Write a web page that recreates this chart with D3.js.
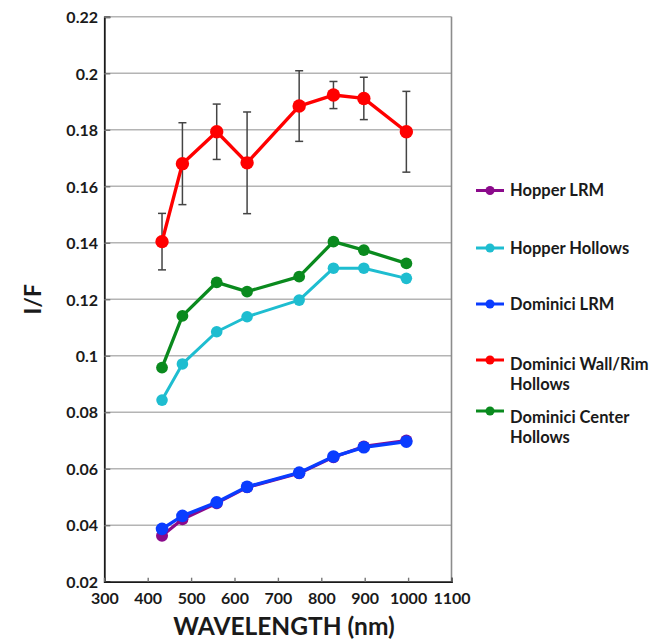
<!DOCTYPE html>
<html>
<head>
<meta charset="utf-8">
<script src="https://cdn.jsdelivr.net/npm/d3@7"></script>
<style>
  html, body { margin: 0; padding: 0; background: #fff; }
  svg { display: block; }
  text { font-family: Lato, "Open Sans", sans-serif; font-weight: bold; fill: #1a1a1a; }
</style>
</head>
<body>
<svg id="chart" width="657" height="642"></svg>
<script>
// ---- data ----
const wavelengths = [433, 480, 559, 629, 749, 828, 898, 996];
const hopperLRM      = [0.0363, 0.0421, 0.0478, 0.0534, 0.0584, 0.0641, 0.0679, 0.0700];
const hopperHollows  = [0.0843, 0.0971, 0.1085, 0.1138, 0.1197, 0.1310, 0.1310, 0.1274];
const dominiciLRM    = [0.0387, 0.0433, 0.0481, 0.0536, 0.0586, 0.0643, 0.0676, 0.0696];
const dominiciWall   = [0.1404, 0.1680, 0.1793, 0.1683, 0.1884, 0.1923, 0.1911, 0.1793];
const dominiciWallErr= [0.0100, 0.0145, 0.0098, 0.0180, 0.0125, 0.0048, 0.0075, 0.0143];
const dominiciCenter = [0.0958, 0.1141, 0.1260, 0.1227, 0.1280, 0.1404, 0.1374, 0.1327];
const xTicks = [300, 400, 500, 600, 700, 800, 900, 1000, 1100];
const yTicks = [0.02, 0.04, 0.06, 0.08, 0.1, 0.12, 0.14, 0.16, 0.18, 0.2, 0.22];
const seriesNames = ["Hopper LRM", "Hopper Hollows", "Dominici LRM", "Dominici Wall/Rim Hollows", "Dominici Center Hollows"];
const legendLines = [["Hopper LRM"], ["Hopper Hollows"], ["Dominici LRM"], ["Dominici Wall/Rim", "Hollows"], ["Dominici Center", "Hollows"]];

const series = [
  { name: seriesNames[0], values: hopperLRM,      color: "#8b0a8b", r: 6,   w: 3.2 },
  { name: seriesNames[1], values: hopperHollows,  color: "#1ebdd0", r: 5.8, w: 3.0 },
  { name: seriesNames[2], values: dominiciLRM,    color: "#0a3cff", r: 6.3, w: 3.4 },
  { name: seriesNames[3], values: dominiciWall,   color: "#ff0000", r: 6.7, w: 3.4, err: dominiciWallErr },
  { name: seriesNames[4], values: dominiciCenter, color: "#0a8a1e", r: 5.9, w: 3.3 }
];

const svg = d3.select("#chart");
const x = d3.scaleLinear().domain([300, 1100]).range([104.3, 451.5]);
const y = d3.scaleLinear().domain([0.02, 0.22]).range([581.7, 16.8]);

// gridlines
svg.append("g").selectAll("line").data(yTicks.slice(1)).join("line")
  .attr("x1", x(300)).attr("x2", x(1100))
  .attr("y1", d => y(d)).attr("y2", d => y(d))
  .attr("stroke", "#b4b4b4").attr("stroke-width", 1.6);

// right border
svg.append("line").attr("x1", x(1100)).attr("x2", x(1100))
  .attr("y1", y(0.22)).attr("y2", y(0.02))
  .attr("stroke", "#8c8c8c").attr("stroke-width", 1.6);

// y axis
const yAxis = d3.axisLeft(y).tickValues(yTicks).tickSize(-6).tickPadding(8)
  .tickFormat(d => String(+d.toFixed(2)));
const gy = svg.append("g").attr("transform", `translate(${x(300)},0)`).call(yAxis);
gy.select(".domain").attr("stroke", "#1a1a1a").attr("stroke-width", 1.8);
gy.selectAll(".tick line").attr("stroke", "#777").attr("stroke-width", 1.4);
gy.selectAll(".tick text").attr("font-size", 16).attr("x", -6.3).attr("dy", "0.36em");

// x axis
const xAxis = d3.axisBottom(x).tickValues(xTicks).tickSize(-4).tickPadding(7).tickFormat(d3.format("d"));
const gx = svg.append("g").attr("transform", `translate(0,${y(0.02)})`).call(xAxis);
gx.select(".domain").attr("stroke", "#1a1a1a").attr("stroke-width", 1.8);
gx.selectAll(".tick line").attr("stroke", "#777").attr("stroke-width", 1.4);
gx.selectAll(".tick text").attr("font-size", 16).attr("y", 10.5).attr("dy", "0.72em");

// axis titles
svg.append("text").attr("x", 284).attr("y", 635).attr("text-anchor", "middle")
  .attr("font-size", 24.5).text("WAVELENGTH (nm)");
svg.append("text").attr("transform", `translate(41,${(y(0.02)+y(0.22))/2}) rotate(-90)`)
  .attr("text-anchor", "middle").attr("font-size", 23).text("I/F");

const line = d3.line().x((d, i) => x(wavelengths[i])).y(d => y(d));

series.forEach(s => {
  const g = svg.append("g");
  if (s.err) {
    const eb = g.append("g").attr("stroke", "#444").attr("stroke-width", 1.5);
    s.values.forEach((v, i) => {
      const cx = x(wavelengths[i]);
      eb.append("line").attr("x1", cx).attr("x2", cx).attr("y1", y(v + s.err[i])).attr("y2", y(v - s.err[i]));
      eb.append("line").attr("x1", cx - 4).attr("x2", cx + 4).attr("y1", y(v + s.err[i])).attr("y2", y(v + s.err[i]));
      eb.append("line").attr("x1", cx - 4).attr("x2", cx + 4).attr("y1", y(v - s.err[i])).attr("y2", y(v - s.err[i]));
    });
  }
  g.append("path").datum(s.values).attr("d", line)
    .attr("fill", "none").attr("stroke", s.color).attr("stroke-width", s.w).attr("stroke-linejoin", "round");
  g.selectAll("circle").data(s.values).join("circle")
    .attr("cx", (d, i) => x(wavelengths[i])).attr("cy", d => y(d)).attr("r", s.r)
    .attr("fill", s.color);
});

// legend
const legendY = [190.5, 248, 304, 360, 411];
const legend = svg.append("g");
series.forEach((s, i) => {
  const ly = legendY[i];
  legend.append("line").attr("x1", 476).attr("x2", 504).attr("y1", ly).attr("y2", ly)
    .attr("stroke", s.color).attr("stroke-width", 3);
  legend.append("circle").attr("cx", 490).attr("cy", ly).attr("r", 4.5).attr("fill", s.color);
  const lines = legendLines[i];
  const t = legend.append("text").attr("x", 510).attr("y", ly).attr("font-size", 16.5);
  lines.forEach((l, j) => {
    t.append("tspan").attr("x", 510)
      .attr("dy", j === 0 ? (lines.length > 1 ? (i === 4 ? "0.72em" : "0.6em") : "0.36em") : "1.2em").text(l);
  });
});
</script>
</body>
</html>
